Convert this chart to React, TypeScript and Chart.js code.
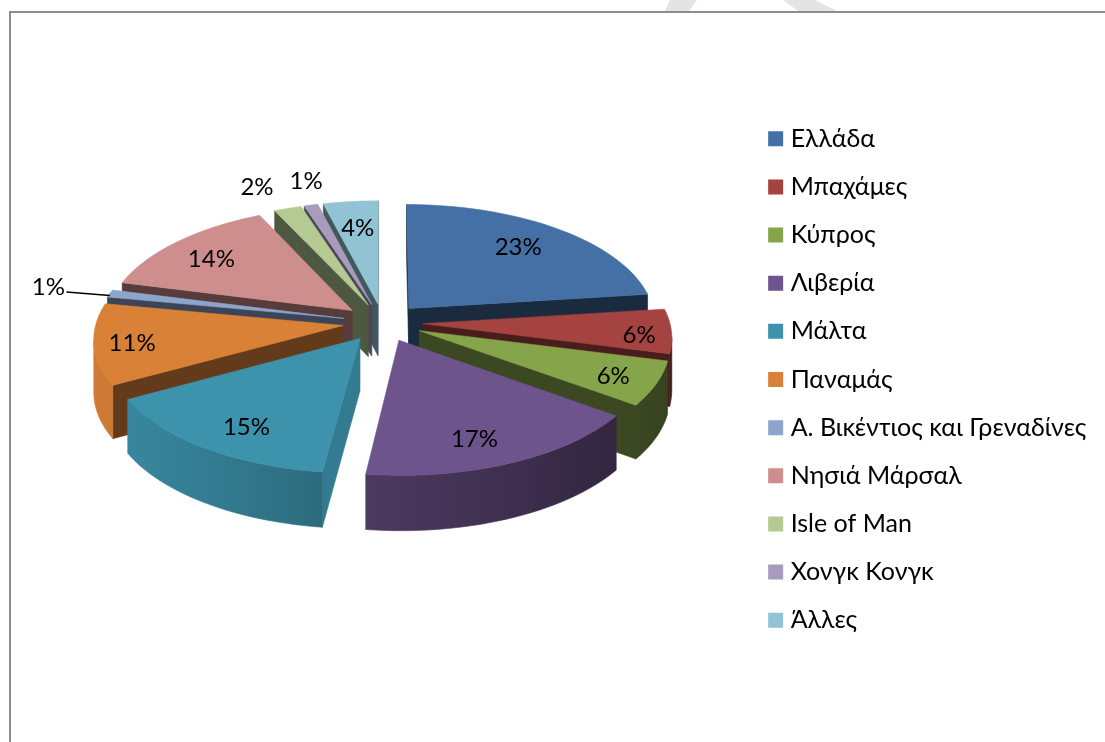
import React, { useEffect, useRef } from "react";
import { Chart, registerables } from "chart.js";

Chart.register(...registerables);

const categories = ["Ελλάδα", "Μπαχάμες", "Κύπρος", "Λιβερία", "Μάλτα", "Παναμάς", "Α. Βικέντιος και Γρεναδίνες", "Νησιά Μάρσαλ", "Isle of Man", "Χονγκ Κονγκ", "Άλλες"];
const shares = [23, 6, 6, 17, 15, 11, 1, 14, 2, 1, 4];
const colors = ["#4470a5", "#a54340", "#86a44a", "#6e548d", "#3d92ac", "#da8138", "#8ea5cb", "#ce8e8d", "#b5ca92", "#a99bbd", "#92c3d4"];
const wallShade = [0.38, 0.44, 0.44, 0.42, 0.84, 0.46, 0.42, 0.42, 0.43, 0.45, 0.45];
const labelRadius = [0.74, 0.87, 0.83, 0.8, 0.8, 0.85, 1.27, 0.77, 1.27, 1.26, 0.72];
const labelNudge = [-1, 3, 1, 3.5, -3, -1, 0, -2, -2.5, 2, 0];

const FONT = "Lato, 'Noto Sans', sans-serif";
const TILT = 0.475;
const PERSPECTIVE = 2400;
const DEPTH = 52;
const SLICE_GAP = 40;

function project(cx: number, cy: number, u: number, v: number, h = 0) {
  const w = 1 / (1 - v / PERSPECTIVE);
  return { x: cx + u * w, y: cy + TILT * v * w + h * Math.sqrt(w) };
}

function shade(hex: string, f: number) {
  const n = parseInt(hex.slice(1), 16);
  const c = [(n >> 16) & 255, (n >> 8) & 255, n & 255].map((k) => Math.round(k * f));
  return `rgb(${c[0]},${c[1]},${c[2]})`;
}

function fillPoly(ctx: CanvasRenderingContext2D, pts: { x: number; y: number }[], color: any) {
  ctx.beginPath();
  pts.forEach((p, i) => (i ? ctx.lineTo(p.x, p.y) : ctx.moveTo(p.x, p.y)));
  ctx.closePath();
  ctx.fillStyle = color;
  ctx.strokeStyle = color;
  ctx.lineWidth = 0.6;
  ctx.fill();
  ctx.stroke();
}

const pagePlugin = {
  id: "page",
  afterLayout(chart: any) {
    const lg = chart.legend;
    const dx = 750 - lg.left;
    const dy = 57;
    lg.left += dx;
    lg.right += dx;
    lg.top += dy;
    lg.bottom += dy;
  },
  beforeDraw(chart: any) {
    const ctx = chart.ctx;
    ctx.save();
    ctx.fillStyle = "#e4e4e4";
    [[[670, 0], [697, 0], [689, 11], [665, 11]], [[783, 0], [815, 0], [837, 11], [798, 11]]].forEach((poly) => {
      ctx.beginPath();
      poly.forEach(([x, y], i) => (i ? ctx.lineTo(x, y) : ctx.moveTo(x, y)));
      ctx.closePath();
      ctx.fill();
    });
    ctx.fillStyle = "#8c8c8c";
    ctx.fillRect(9, 11, 1096, 2);
    ctx.fillRect(9, 11, 2, 731);
    ctx.restore();
  },
};

const pie3dPlugin = {
  id: "pie3d",
  beforeDatasetDraw(chart: any, args: any) {
    const ctx: CanvasRenderingContext2D = chart.ctx;
    const arcs = chart.getDatasetMeta(args.index).data as any[];
    const order = arcs.map((_, i) => i).sort((a, b) => {
      const m = (k: number) => Math.sin((arcs[k].startAngle + arcs[k].endAngle) / 2);
      return m(a) - m(b);
    });
    ctx.save();
    order.forEach((i) => {
      const arc = arcs[i];
      const { x: cx, y: cy, startAngle: a0, endAngle: a1, outerRadius: R } = arc;
      const mid = (a0 + a1) / 2;
      const off = arc.options.offset;
      const ou = Math.cos(mid) * off;
      const ov = Math.sin(mid) * off;
      const steps = Math.max(4, Math.ceil(((a1 - a0) * 180) / Math.PI / 2));
      const top: { x: number; y: number }[] = [];
      const bottom: { x: number; y: number }[] = [];
      for (let s = 0; s <= steps; s++) {
        const a = a0 + ((a1 - a0) * s) / steps;
        const u = ou + Math.cos(a) * R;
        const v = ov + Math.sin(a) * R;
        top.push(project(cx, cy, u, v));
        bottom.push(project(cx, cy, u, v, DEPTH));
      }
      const apex = project(cx, cy, ou, ov);
      const apexB = project(cx, cy, ou, ov, DEPTH);
      const centroid = project(cx, cy, ou + Math.cos(mid) * R * 0.6, ov + Math.sin(mid) * R * 0.6);
      const base = colors[i];
      const wall = (edge: { x: number; y: number }, edgeB: { x: number; y: number }) => {
        const [p, q] = edge.x <= apex.x ? [edge, apex] : [apex, edge];
        const cross = (q.x - p.x) * (centroid.y - p.y) - (q.y - p.y) * (centroid.x - p.x);
        if (cross < 0) fillPoly(ctx, [apex, edge, edgeB, apexB], shade(base, wallShade[i]));
      };
      wall(top[0], bottom[0]);
      wall(top[steps], bottom[steps]);
      const rimTop: { x: number; y: number }[] = [];
      const rimBottom: { x: number; y: number }[] = [];
      for (let s = 0; s < steps; s++) {
        if (top[s + 1].x < top[s].x) {
          if (!rimTop.length) {
            rimTop.push(top[s]);
            rimBottom.push(bottom[s]);
          }
          rimTop.push(top[s + 1]);
          rimBottom.push(bottom[s + 1]);
        }
      }
      if (rimTop.length) {
        const g = ctx.createLinearGradient(100, 0, 670, 0);
        g.addColorStop(0, shade(base, 0.95));
        g.addColorStop(1, shade(base, 0.4));
        fillPoly(ctx, [...rimTop, ...rimBottom.reverse()], g);
      }
      fillPoly(ctx, [apex, ...top], base);
    });
    ctx.restore();
    return false;
  },
  afterDatasetsDraw(chart: any) {
    const ctx: CanvasRenderingContext2D = chart.ctx;
    const arcs = chart.getDatasetMeta(0).data as any[];
    const total = shares.reduce((a, b) => a + b, 0);
    ctx.save();
    ctx.font = `24px ${FONT}`;
    ctx.fillStyle = "#000";
    ctx.textAlign = "center";
    ctx.textBaseline = "middle";
    arcs.forEach((arc, i) => {
      const { x: cx, y: cy, startAngle: a0, endAngle: a1, outerRadius: R } = arc;
      const mid = (a0 + a1) / 2;
      const off = arc.options.offset;
      const ou = Math.cos(mid) * off;
      const ov = Math.sin(mid) * off;
      const la = mid + (labelNudge[i] * Math.PI) / 180;
      const r = labelRadius[i] * R;
      const p = project(cx, cy, ou + Math.cos(la) * r, ov + Math.sin(la) * r);
      ctx.fillText(`${Math.round((shares[i] / total) * 100)}%`, p.x, p.y);
      if (i === 6) {
        const rim = project(cx, cy, ou + Math.cos(mid) * R, ov + Math.sin(mid) * R);
        ctx.beginPath();
        ctx.moveTo(rim.x, rim.y + 2);
        ctx.lineTo(p.x + 18, p.y + 5);
        ctx.strokeStyle = "#000";
        ctx.lineWidth = 1.5;
        ctx.stroke();
      }
    });
    ctx.restore();
  },
};

export default function App() {
  const ref = useRef<HTMLCanvasElement>(null);
  useEffect(() => {
    document.body.style.margin = "0";
    const chart = new Chart(ref.current!, {
      type: "pie",
      data: {
        labels: categories,
        datasets: [{ data: shares, backgroundColor: colors, borderWidth: 0, offset: SLICE_GAP, radius: 247 } as any],
      },
      options: {
        responsive: false,
        animation: false,
        layout: { padding: { left: 17, right: 10, bottom: 97 } },
        plugins: {
          tooltip: { enabled: false },
          legend: {
            position: "right",
            labels: {
              boxWidth: 5,
              boxHeight: 5,
              padding: 23.15,
              color: "#000",
              font: { family: FONT, size: 25 },
              generateLabels: () =>
                categories.map((text, i) => ({ text, fillStyle: colors[i], strokeStyle: colors[i], lineWidth: 10, index: i, hidden: false, fontColor: "#000" })),
            },
          },
        },
      } as any,
      plugins: [pagePlugin, pie3dPlugin] as any,
    });
    return () => chart.destroy();
  }, []);
  return <canvas ref={ref} width={1105} height={742} style={{ display: "block", position: "absolute", left: 0, top: 0 }} />;
}
